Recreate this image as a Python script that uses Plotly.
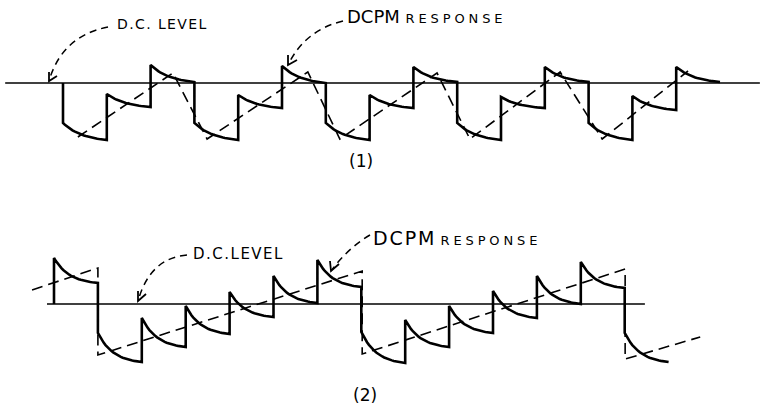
import numpy as np
import plotly.graph_objects as go

# ---------------- data (time in quantizer steps, amplitude relative to D.C. level) -------------
# Panel (1): DCPM staircase response, level at start and end of each step interval
top_start_levels = [-4.0, -1.1, 1.8, -4.0, -1.2, 1.7, -4.0, -1.2, 1.6, -4.0, -1.4, 1.6, -4.0, -1.3, 1.6]
top_end_levels   = [-5.7, -2.4, 0.1, -5.7, -2.5, 0.0, -5.7, -2.5, 0.1, -5.7, -2.5, 0.1, -5.7, -2.7, 0.1]
# Panel (1): input (dashed) waveform vertices
top_ref_t = [0.34, 2.51, 3.29, 5.59, 6.32, 8.54, 9.29, 11.35, 12.31, 14.27]
top_ref_a = [-5.4, 1.0, -5.6, 1.1, -5.6, 1.0, -5.6, 1.1, -5.6, 1.2]
top_dc_t = [-1.32, 15.91]

# Panel (2)
bot_start_levels = [4.6, -2.9, -1.4, -0.2, 1.2, 2.8, 4.4, -2.8, -1.6, -0.2, 1.3, 2.8, 4.2, -2.9]
bot_end_levels   = [2.1, -5.8, -4.3, -3.0, -1.3, 0.1, 1.7, -5.9, -4.3, -2.9, -1.4, 0.0, 1.6, -5.8]
bot_ref_t = [-0.50, 1.00, 1.00, 7.02, 7.02, 13.01, 13.01, 14.72]
bot_ref_a = [1.4, 3.6, -5.1, 3.3, -5.0, 3.5, -5.5, -3.3]
bot_dc_t = [-0.16, 13.46]

W, H = 761, 407


def staircase(starts, ends, tau, n=24):
    """Solid response: a jump at each step, then an RC-like decay to the read end level."""
    ts, As = [0.0], [0.0]
    s = np.linspace(0, 1, n)
    shape = (np.exp(-s / tau) - np.exp(-1 / tau)) / (1 - np.exp(-1 / tau))
    for k, (a0, a1) in enumerate(zip(starts, ends)):
        ts.extend(list(k + s))
        As.extend(list(a1 + (a0 - a1) * shape))
    return ts, As


fig = go.Figure()

solid = dict(color="black", width=2.6)
dashed = dict(color="black", width=1.6, dash="11px,6px")
dcline = dict(color="black", width=1.4)

# panel 1
fig.add_trace(go.Scatter(x=top_dc_t, y=[0, 0], mode="lines", line=dcline, xaxis="x", yaxis="y"))
t1, a1 = staircase(top_start_levels, top_end_levels, 0.45)
fig.add_trace(go.Scatter(x=t1, y=a1, mode="lines", line=solid, xaxis="x", yaxis="y"))
fig.add_trace(go.Scatter(x=top_ref_t, y=top_ref_a, mode="lines", line=dashed, xaxis="x", yaxis="y"))

# panel 2
fig.add_trace(go.Scatter(x=bot_dc_t, y=[0, 0], mode="lines", line=dcline, xaxis="x2", yaxis="y2"))
t2, a2 = staircase(bot_start_levels, bot_end_levels, 0.35)
fig.add_trace(go.Scatter(x=t2, y=a2, mode="lines", line=solid, xaxis="x2", yaxis="y2"))
fig.add_trace(go.Scatter(x=bot_ref_t, y=bot_ref_a, mode="lines", line=dashed, xaxis="x2", yaxis="y2"))


def px(x):
    return x / W


def py(y):
    return 1 - y / H


def pth(cmds):
    out = []
    for c in cmds:
        if isinstance(c, str):
            out.append(c)
        else:
            out.append(f"{px(c[0]):.5f},{py(c[1]):.5f}")
    return " ".join(out)


shapes = []


def curved_arrow(p0, c, tip, b1, b2):
    shapes.append(dict(type="path", xref="paper", yref="paper",
                       path=pth(["M", p0, "Q", c, tip]),
                       line=dict(color="black", width=1.5, dash="7px,5px")))
    shapes.append(dict(type="path", xref="paper", yref="paper",
                       path=pth(["M", b1, "L", tip, "L", b2]),
                       line=dict(color="black", width=1.8)))


curved_arrow((108, 27), (62, 36), (49, 81), (49, 72), (57, 76))
curved_arrow((343, 21), (305, 30), (288, 65), (288, 55), (297, 60))
curved_arrow((187, 255), (150, 258), (138, 301), (138, 291), (146, 294))
curved_arrow((370, 235), (348, 248), (331, 271), (330, 261), (339, 264))

HS = "\u200a"
TS = "\u2009"


def spaced(s, sep=HS):
    return sep.join(list(s))


FONT = "DejaVu Sans"
anns = [
    dict(x=px(115), y=py(24), text=spaced("D.C. LEVEL"), font=dict(size=14), xanchor="left"),
    dict(x=px(345), y=py(17),
         text="DCPM <span style='font-size:13px'>" + spaced("RESPONSE", TS + HS) + "</span>",
         font=dict(size=18), xanchor="left"),
    dict(x=px(361), y=py(161), text="(1)", font=dict(size=17), xanchor="center"),
    dict(x=px(191), y=py(254), text=spaced("D.C.LEVEL"), font=dict(size=15), xanchor="left"),
    dict(x=px(371), y=py(238),
         text=spaced("DCPM", HS) + " <span style='font-size:13px'>" + spaced("RESPONSE", TS + HS) + "</span>",
         font=dict(size=19), xanchor="left"),
    dict(x=px(365), y=py(395), text="(2)", font=dict(size=17), xanchor="center"),
]
for a in anns:
    a.update(xref="paper", yref="paper", showarrow=False, yanchor="middle")
    a["font"].update(family=FONT, color="black")

split = 1 - 172 / H
fig.update_layout(
    width=W, height=H, autosize=False,
    margin=dict(l=0, r=0, t=0, b=0),
    paper_bgcolor="white", plot_bgcolor="white",
    showlegend=False,
    xaxis=dict(domain=[0, 1], range=[-63 / 43.8, (W - 63) / 43.8], visible=False, anchor="y"),
    yaxis=dict(domain=[split, 1], range=[(83 - 172) / 10, 8.3], visible=False, anchor="x"),
    xaxis2=dict(domain=[0, 1], range=[-54 / 43.9, (W - 54) / 43.9], visible=False, anchor="y2"),
    yaxis2=dict(domain=[0, split], range=[(304 - H) / 10, (304 - 172) / 10], visible=False, anchor="x2"),
    shapes=shapes,
    annotations=anns,
)

fig.write_html("out.html", config={"displayModeBar": False},
               post_script="document.body.style.margin='0px';document.body.style.overflow='hidden';")
